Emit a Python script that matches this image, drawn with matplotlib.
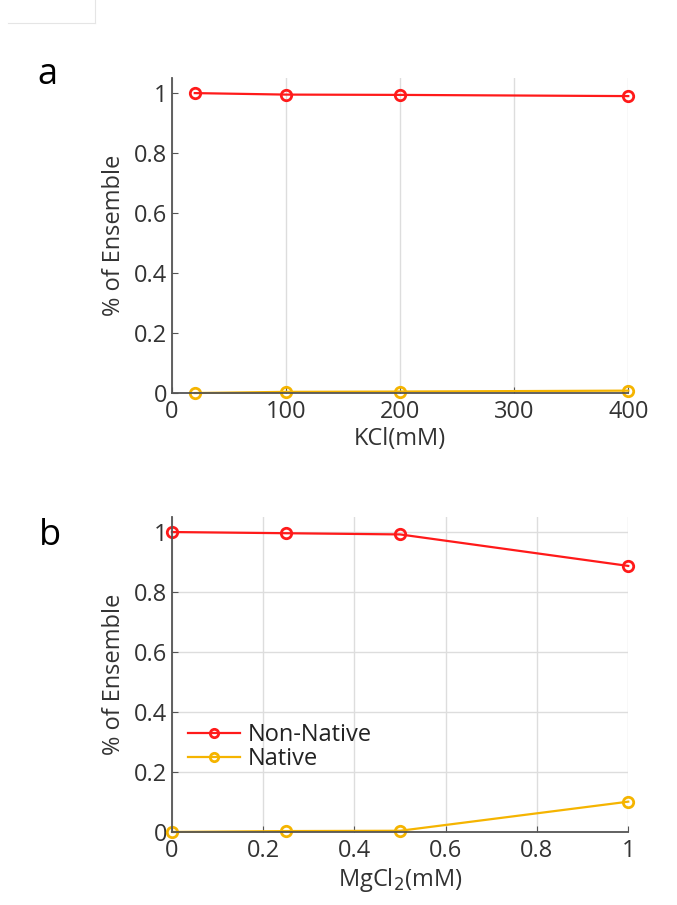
import numpy as np
import matplotlib
matplotlib.use('Agg')
import matplotlib.pyplot as plt
from matplotlib.lines import Line2D

plt.rcParams['font.family'] = ['Open Sans', 'DejaVu Sans']

# panel a: KCl
kcl = [20, 100, 200, 400]
kcl_nonnative = [1.0, 0.995, 0.994, 0.99]
kcl_native = [0.0, 0.004, 0.005, 0.008]

# panel b: MgCl2
mg = [0, 0.25, 0.5, 1.0]
mg_nonnative = [1.0, 0.996, 0.992, 0.887]
mg_native = [0.0, 0.003, 0.004, 0.101]

red = '#ff1a1a'
yel = '#f5b400'
fs = 17

fig = plt.figure(figsize=(6.77, 9.05), dpi=100)
ax1 = fig.add_axes([0.254, 0.5657, 0.674, 0.348])
ax2 = fig.add_axes([0.254, 0.0807, 0.674, 0.348])

def style(ax, xgrid_only):
    for s in ['top', 'right']:
        ax.spines[s].set_visible(False)
    for s in ['left', 'bottom']:
        ax.spines[s].set_color('#555555')
        ax.spines[s].set_linewidth(1.3)
    ax.tick_params(direction='in', length=4, labelsize=fs, colors='#555555',
                   labelcolor='#333333')
    ax.tick_params(axis='x', pad=5)
    if xgrid_only:
        ax.grid(axis='x', color='#dddddd', lw=1)
    else:
        ax.grid(color='#dddddd', lw=1)
    ax.set_axisbelow(True)
    ax.set_ylim(0, 1.05)
    ax.set_yticks(np.arange(0, 1.01, 0.2))
    ax.set_yticklabels(['0', '0.2', '0.4', '0.6', '0.8', '1'])
    ax.set_ylabel('% of Ensemble', fontsize=fs, color='#333333', labelpad=6)

kw = dict(lw=1.6, marker='o', mfc='none', ms=7.5, mew=2, clip_on=False)

ax1.plot(kcl, kcl_nonnative, color=red, **kw)
ax1.plot(kcl, kcl_native, color=yel, **kw)
ax1.set_xlim(0, 400)
ax1.set_xticks([0, 100, 200, 300, 400])
style(ax1, True)
ax1.set_xlabel('KCl(mM)', fontsize=fs, color='#333333', labelpad=2)

ax2.plot(mg, mg_nonnative, color=red, label='Non-Native', **kw)
ax2.plot(mg, mg_native, color=yel, label='Native', **kw)
ax2.set_xlim(0, 1)
ax2.set_xticks(np.arange(0, 1.01, 0.2))
ax2.set_xticklabels(['0', '0.2', '0.4', '0.6', '0.8', '1'])
style(ax2, False)
ax2.set_xlabel('MgCl$_2$(mM)', fontsize=fs, color='#333333', labelpad=2)
leg = ax2.legend(loc='lower left', bbox_to_anchor=(0.0, 0.14), frameon=False,
                 fontsize=fs, handlelength=2.2, handletextpad=0.3,
                 labelspacing=0.0, markerscale=0.8, borderaxespad=0.3)
for t in leg.get_texts():
    t.set_color('#222222')

fig.text(0.055, 0.917, 'a', fontsize=26, va='center', ha='left')
fig.text(0.057, 0.408, 'b', fontsize=26, va='center', ha='left')

# thin frame artefact at top left
fig.add_artist(Line2D([0.012, 0.140], [0.975, 0.975], color='#e5e5e5', lw=0.8))
fig.add_artist(Line2D([0.140, 0.140], [0.975, 1.0], color='#e5e5e5', lw=0.8))

fig.savefig('out.png', dpi=100)
